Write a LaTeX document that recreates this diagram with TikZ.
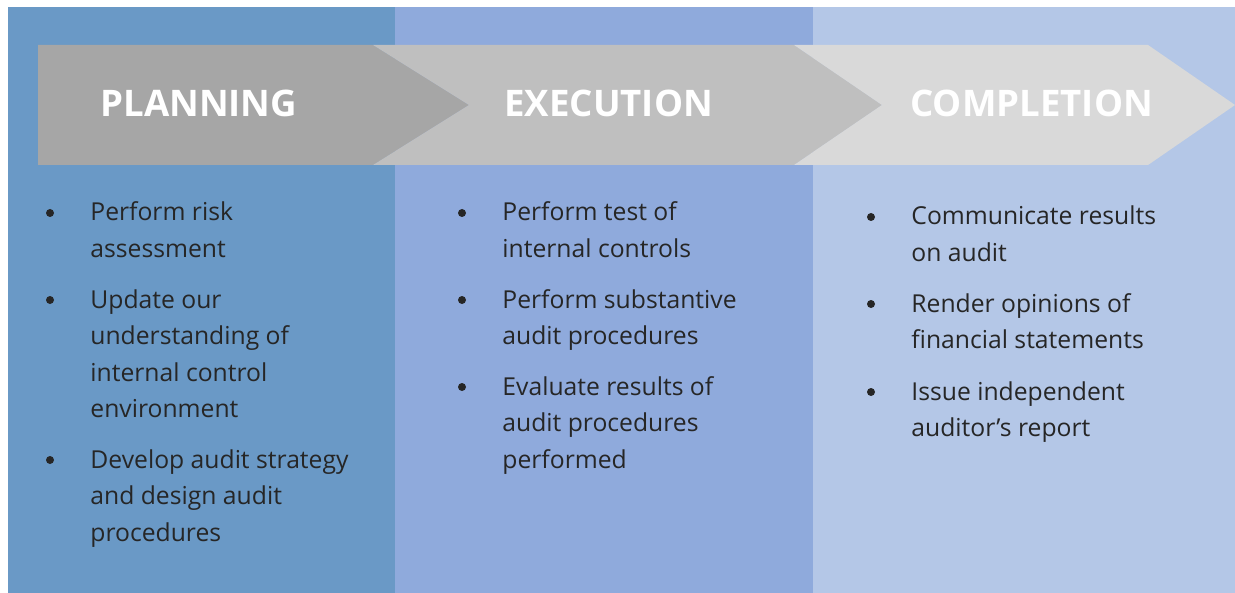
\documentclass[tikz,border=0pt]{standalone}
\usepackage{fontspec}
\setmainfont{Open Sans}
\usetikzlibrary{positioning}
\definecolor{planblue}{HTML}{6A99C6}
\definecolor{execblue}{HTML}{8FAADC}
\definecolor{compblue}{HTML}{B4C7E7}
\definecolor{taskgrey}{HTML}{262626}
\tikzset{
 head/.style={font=\fontsize{18.3}{22}\selectfont\bfseries,text=white,anchor=base west,inner sep=0},
 % base anchor sits on the last line of a task
 task/.style={font=\fontsize{12.35}{18.3}\selectfont,text=taskgrey,anchor=base west,align=left,inner sep=0},
 dot/.style={circle,fill=taskgrey,inner sep=0,minimum size=4pt}
}
\begin{document}
\begin{tikzpicture}[x=0.5pt,y=-0.5pt]
\useasboundingbox(0,0)rectangle(1235,593);
% columns
\fill[planblue](8,7)rectangle(395,593);
\fill[execblue](395,7)rectangle(813,593);
\fill[compblue](813,7)rectangle(1235,593);
% chevrons
\fill[black!35](38,45)--(373,45)--(469,105)--(373,165)--(38,165)--cycle;
\fill[black!25](373,45)--(794,45)--(882,105)--(794,165)--(373,165)--(469,105)--cycle;
\fill[black!15](794,45)--(1148,45)--(1235,105)--(1148,165)--(794,165)--(882,105)--cycle;
\node[head](plan)at(100,117){PLANNING};
\node[head](exec)at(504,117){EXECUTION};
\node[head](comp)at(910,117){COMPLETION};
% planning tasks
\node[dot](pd1)at(50,213){};
\node[task](pt1)at(90,257.6){Perform risk\\assessment};
\node[dot](pd2)at(50,300){};
\node[task](pt2)at(90,417.8){Update our\\understanding of\\internal control\\environment};
\node[dot](pd3)at(50,460){};
\node[task](pt3)at(90,541.2){Develop audit strategy\\and design audit\\procedures};
% execution tasks
\node[dot](ed1)at(462,213){};
\node[task](et1)at(502,257.6){Perform test of\\internal controls};
\node[dot](ed2)at(462,300){};
\node[task](et2)at(502,344.6){Perform substantive\\audit procedures};
\node[dot](ed3)at(462,387){};
\node[task](et3)at(502,468.2){Evaluate results of\\audit procedures\\performed};
% completion tasks
\node[dot](cd1)at(871,217){};
\node[task](ct1)at(911,261.6){Communicate results\\on audit};
\node[dot](cd2)at(871,304){};
\node[task](ct2)at(911,348.6){Render opinions of\\financial statements};
\node[dot](cd3)at(871,392){};
\node[task](ct3)at(911,436.6){Issue independent\\auditor’s report};
\end{tikzpicture}
\end{document}
